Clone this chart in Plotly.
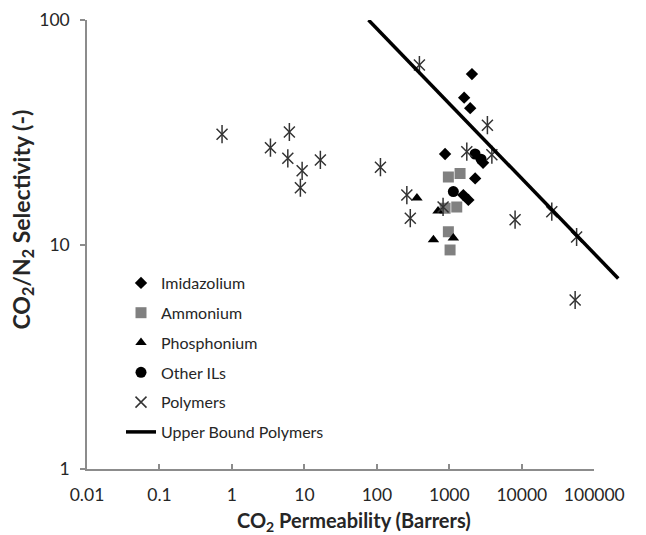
import plotly.graph_objects as go

# CO2 permeability (Barrers) and CO2/N2 selectivity for each material class
imid_perm = [2050, 1600, 1940, 873, 2270, 1560, 1830, 2920]
imid_sel = [57.4, 45.1, 40.5, 25.3, 19.7, 16.6, 15.8, 23.1]

ammon_perm = [969, 1405, 873, 1265, 969, 1023]
ammon_sel = [20.0, 20.7, 14.5, 14.7, 11.4, 9.46]

phos_perm = [357, 603, 1135, 698]
phos_sel = [16.1, 10.5, 10.7, 14.1]

other_perm = [1135, 2265, 2740]
other_sel = [17.2, 25.3, 24.0]

poly_perm = [0.73, 6.2, 3.4, 5.9, 16.6, 9.3, 8.8, 112, 259, 289, 386, 819,
             1740, 3350, 3860, 8070, 25900, 57000, 54400]
poly_sel = [31.0, 31.7, 27.0, 24.2, 23.8, 21.3, 17.9, 22.1, 16.6, 13.1, 63.0, 14.7,
            25.9, 34.0, 25.1, 12.9, 14.0, 10.8, 5.66]

# Upper bound line end points
bound_perm = [76.6, 214000]
bound_sel = [100, 7.06]

x_ticks = [0.01, 0.1, 1, 10, 100, 1000, 10000, 100000]
x_tick_text = ["0.01", "0.1", "1", "10", "100", "1000", "10000", "100000"]
y_ticks = [1, 10, 100]
y_tick_text = ["1", "10", "100"]

FONT = "Lato"
TXT = "#262626"
AX = "#8c8c8c"
POLY = "#333333"

W, H = 646, 535
ML, MR, MT, MB = 87, 20, 20, 66
plot_w = W - ML - MR
plot_h = H - MT - MB
main_end = (594.3 - ML) / plot_w          # right end of the visible x axis
px_per_dec = (594.3 - ML) / 7.0
x2_top = -2 + plot_w / px_per_dec         # wider hidden axis for the bound line

fig = go.Figure()

fig.add_trace(go.Scatter(
    x=imid_perm, y=imid_sel, mode="markers", name="Imidazolium",
    legendgroup="imid",
    marker=dict(symbol="diamond", size=9.5, color="black"),
))
fig.add_trace(go.Scatter(
    x=ammon_perm, y=ammon_sel, mode="markers", name="Ammonium",
    legendgroup="ammon",
    marker=dict(symbol="square", size=11, color="#808080"),
))
fig.add_trace(go.Scatter(
    x=phos_perm, y=phos_sel, mode="markers", name="Phosphonium",
    legendgroup="phos",
    marker=dict(symbol="triangle-up", size=10, color="black"),
))
fig.add_trace(go.Scatter(
    x=other_perm, y=other_sel, mode="markers", name="Other ILs",
    legendgroup="other",
    marker=dict(symbol="circle", size=11, color="black"),
))
fig.add_trace(go.Scatter(
    x=poly_perm, y=poly_sel, mode="markers", name="Polymers",
    legendgroup="poly",
    marker=dict(symbol="x-thin-open", size=11, color=POLY,
                line=dict(color=POLY, width=1.5)),
))
fig.add_trace(go.Scatter(
    x=poly_perm, y=poly_sel, mode="markers", name="Polymers",
    legendgroup="poly", showlegend=False,
    marker=dict(symbol="line-ns-open", size=13, color=POLY,
                line=dict(color=POLY, width=1.5)),
))
fig.add_trace(go.Scatter(
    x=bound_perm, y=bound_sel, mode="lines", name="Upper Bound Polymers",
    legendgroup="bound", xaxis="x2", yaxis="y",
    line=dict(color="black", width=3.5),
))

fig.update_layout(
    width=W, height=H,
    margin=dict(l=ML, r=MR, t=MT, b=MB, autoexpand=False),
    paper_bgcolor="white",
    plot_bgcolor="rgba(0,0,0,0)",
    font=dict(family=FONT, color=TXT, size=16),
    showlegend=True,
    legend=dict(
        x=(121 - ML) / plot_w, y=1 - (266 - MT) / plot_h,
        xanchor="left", yanchor="top",
        bgcolor="rgba(0,0,0,0)", borderwidth=0,
        font=dict(family=FONT, size=16, color=TXT),
        tracegroupgap=6,
    ),
    xaxis=dict(
        type="log", range=[-2, 5], domain=[0, main_end],
        tickvals=x_ticks, ticktext=x_tick_text,
        ticks="inside", ticklen=5, tickcolor=AX, tickwidth=1.5,
        showline=True, linecolor=AX, linewidth=1.5,
        showgrid=False, zeroline=False, automargin=False,
        tickfont=dict(family=FONT, size=17.5, color=TXT),
        ticklabelstandoff=9,
        anchor="y",
    ),
    xaxis2=dict(
        type="log", range=[-2, x2_top], domain=[0, 1],
        anchor="y", visible=False, showgrid=False, zeroline=False,
        automargin=False,
    ),
    yaxis=dict(
        type="log", range=[0, 2], domain=[0, 1],
        tickvals=y_ticks, ticktext=y_tick_text,
        ticks="outside", ticklen=5, tickcolor=AX, tickwidth=1.5,
        showline=True, linecolor=AX, linewidth=1.5,
        showgrid=False, zeroline=False, automargin=False,
        tickfont=dict(family=FONT, size=17.5, color=TXT),
        ticklabelstandoff=7,
        anchor="x",
    ),
    annotations=[
        dict(text="<b>CO<sub>2</sub> Permeability (Barrers)</b>",
             xref="paper", yref="paper",
             x=(354 - ML) / plot_w, y=-(521 - (H - MB)) / plot_h,
             xanchor="center", yanchor="middle", showarrow=False,
             font=dict(family=FONT, size=20, color=TXT)),
        dict(text="<b>CO<sub>2</sub>/N<sub>2</sub> Selectivity (-)</b>",
             xref="paper", yref="paper", textangle=-90,
             x=(22 - ML) / plot_w, y=1 - (219.5 - MT) / plot_h,
             xanchor="center", yanchor="middle", showarrow=False,
             font=dict(family=FONT, size=23, color=TXT)),
    ],
)

fig.write_html("out.html")
